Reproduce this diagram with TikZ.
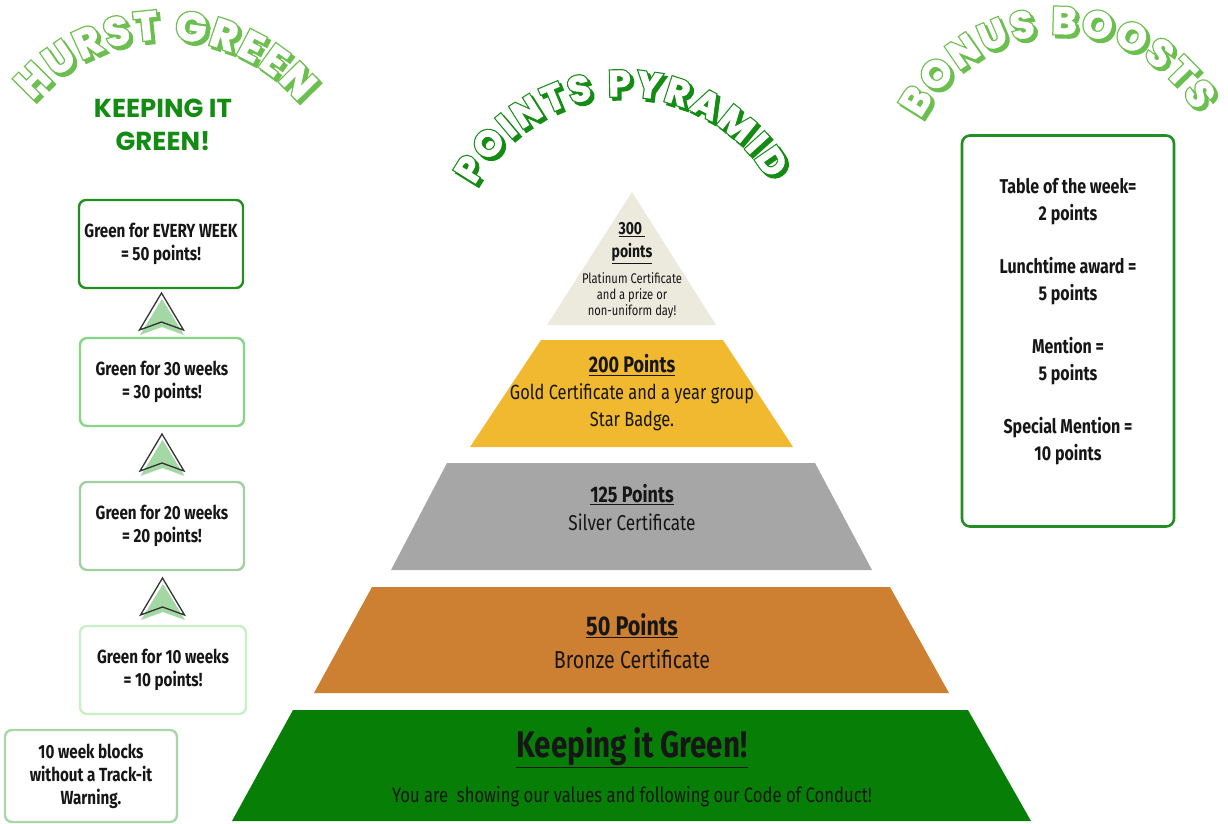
\documentclass[tikz,border=0pt]{standalone}
\usepackage{fontspec}
\setmainfont{Fira Sans}[FakeStretch=0.8]
\newfontfamily\titlefont{Poppins}
\newfontfamily\puffyfont{Poppins}[FakeBold=2.5]
\newfontfamily\rimfont{Poppins}[FakeBold=9]
\usetikzlibrary{calc,decorations.text,positioning}

\definecolor{platinum}{HTML}{ECE9DD}
\definecolor{gold}{HTML}{F0B92F}
\definecolor{silver}{HTML}{A6A6A6}
\definecolor{bronze}{HTML}{CD7F32}
\definecolor{keepgreen}{HTML}{077F07}
\definecolor{limetitle}{HTML}{6BBF4E}
\definecolor{darktitle}{HTML}{148C14}
\definecolor{boxA}{HTML}{238E23}
\definecolor{boxB}{HTML}{85D685}
\definecolor{boxC}{HTML}{A2CFA2}
\definecolor{boxD}{HTML}{C8EFC8}
\definecolor{boxE}{HTML}{A8D6A8}
\definecolor{arrowfill}{HTML}{A3D7A3}
\definecolor{inktext}{HTML}{161616}

% curved bubble title: centre, radius, start, end, colour, size, text
\newcommand\archtitle[7]{%
  % extruded shadow and rim
  \foreach \sh in {3,0}{
    \path[decorate, decoration={text along path, text align=fit to path,
      text={|\rimfont\bfseries\fontsize{#6}{#6}\selectfont\color{#5}|#7}}]
      ([shift={(\sh pt,-\sh pt)}]#1) ++(#3:#2) arc[start angle=#3, end angle=#4, radius=#2];
  }
  % white letters
  \path[decorate, decoration={text along path, text align=fit to path,
    text={|\puffyfont\bfseries\fontsize{#6}{#6}\selectfont\color{white}|#7}}]
    (#1) ++(#3:#2) arc[start angle=#3, end angle=#4, radius=#2];
}

\tikzset{
  weekbox/.style={draw=#1, line width=2.4pt, rounded corners=7pt, fill=white,
    minimum width=164pt, minimum height=88pt, align=center, text=inktext,
    font=\bfseries\fontsize{19}{23}\selectfont},
  tiertext/.style={align=center, text=inktext, font=\fontsize{20.5}{27}\selectfont},
  arrowline/.style={draw=black!80, line width=1.3pt, line join=miter},
}

\begin{document}
\begin{tikzpicture}[x=1pt, y=-1pt]
\useasboundingbox (0,0) rectangle (1228,824);

% titles
\archtitle{165,212}{173pt}{140}{39.5}{limetitle}{40}{HURST GREEN}
\archtitle{623,264}{168pt}{152}{30}{darktitle}{36}{POINTS PYRAMID}
\archtitle{1060,191}{157pt}{152.5}{30.5}{limetitle}{38}{BONUS BOOSTS}

\node[align=center, text=darktitle, font=\titlefont\bfseries\fontsize{26}{33}\selectfont]
  (keep) at (163,125) {KEEPING IT\\GREEN!};

% left column
\node[weekbox=boxA] (b50) at (161,244) {Green for EVERY WEEK\\= 50 points!};
\node[weekbox=boxB] (b30) at (162,382) {Green for 30 weeks\\= 30 points!};
\node[weekbox=boxC] (b20) at (162,526) {Green for 20 weeks\\= 20 points!};
\node[weekbox=boxD, minimum width=166pt] (b10) at (163,670) {Green for 10 weeks\\= 10 points!};
\node[weekbox=boxE, minimum width=172pt, minimum height=92pt] (blocks) at (91,776)
  {10 week blocks\\without a Track-it\\Warning.};

\foreach \lo/\hi in {b30/b50, b20/b30, b10/b20}{
  \coordinate (m) at ($(\lo.north)!0.5!(\hi.south)$);
  \begin{scope}[shift={(m)}]
    \fill[arrowfill] (0.5,-14) -- (22.5,22) -- (0.5,14) -- (-21.5,22) -- cycle;
    \draw[arrowline] (0,-20) -- (22,17) -- (0,9) -- (-22,17) -- cycle;
  \end{scope}
}

% pyramid
\fill[platinum] (632,192) -- (716,325) -- (547,325) -- cycle;
\fill[gold] (541,340) -- (723,340) -- (793,447) -- (470,447) -- cycle;
\fill[silver] (447,463) -- (815,463) -- (872,570) -- (391,570) -- cycle;
\fill[bronze] (372,587) -- (890,587) -- (949,693) -- (314,693) -- cycle;
\fill[keepgreen] (293,710) -- (968,710) -- (1031,821) -- (232,821) -- cycle;

\node[tiertext, font=\bfseries\fontsize{17.5}{23}\selectfont] (p300) at (632,243)
  {\underline{300\ }\\\underline{points}};
\node[tiertext, font=\fontsize{14}{16}\selectfont] (p300b) at (632,296)
  {Platinum Certificate\\and a prize or\\non-uniform day!};
\node[tiertext] (p200) at (632,393)
  {\underline{\textbf{\fontsize{22.5}{27}\selectfont 200 Points}}\\Gold Certificate and a year group\\Star Badge.};
\node[tiertext, font=\fontsize{21.5}{28}\selectfont] (p125) at (632,507)
  {\underline{\textbf{\fontsize{22.5}{28}\selectfont 125 Points}}\\Silver Certificate};
\node[tiertext, font=\fontsize{24.5}{33}\selectfont] (p50) at (632,641)
  {\underline{\textbf{\fontsize{27}{33}\selectfont 50 Points}}\\Bronze Certificate};
\node[tiertext, font=\bfseries\fontsize{37}{40}\selectfont] (pkeep) at (632,748)
  {\underline{Keeping it Green!}};
\node[tiertext, font=\fontsize{20.8}{22}\selectfont] (pvalues) at (632,797)
  {You are\ \ showing our values and following our Code of Conduct!};

% bonus boosts
\node[draw=boxA, line width=2.6pt, rounded corners=8pt, minimum width=212pt,
  minimum height=391pt] (bonus) at (1068,331) {};
\node[tiertext, font=\bfseries\fontsize{20}{27}\selectfont] (bonustext) at (1068,322)
  {Table of the week=\\2 points\\[26pt]Lunchtime award =\\5 points\\[26pt]Mention =\\5 points\\[26pt]Special Mention =\\10 points};
\end{tikzpicture}
\end{document}
